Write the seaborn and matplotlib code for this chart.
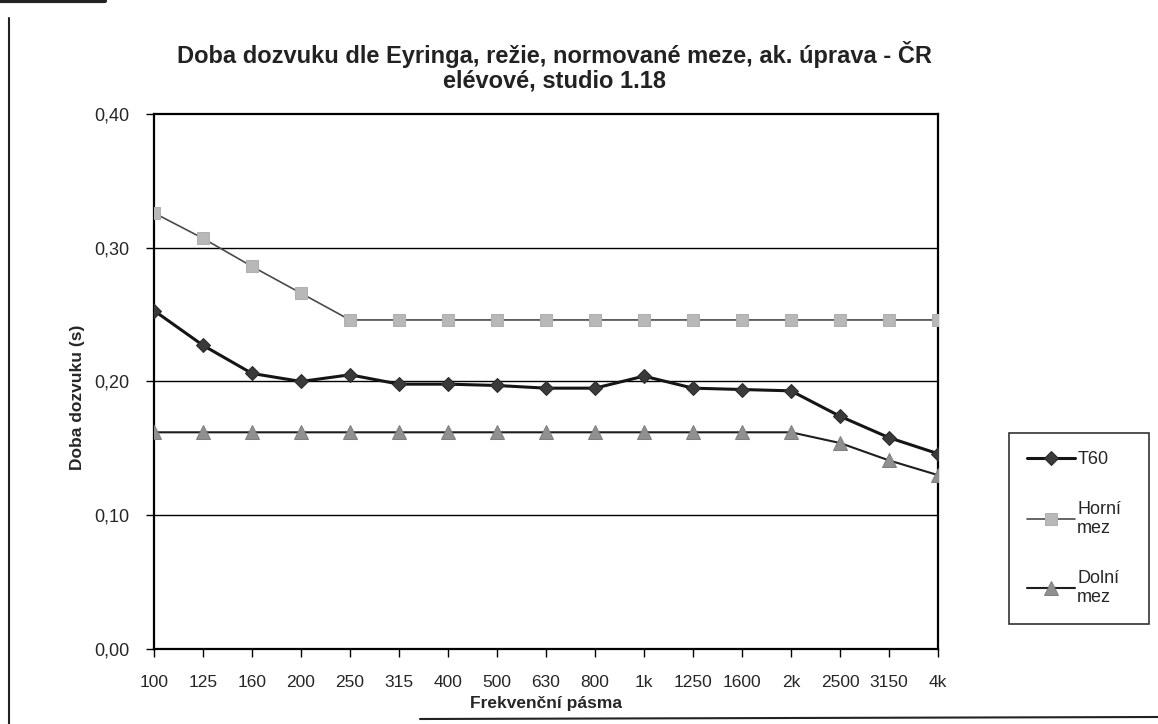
import matplotlib
matplotlib.use("Agg")
import matplotlib.pyplot as plt
import seaborn as sns
import pandas as pd
from matplotlib.lines import Line2D
from matplotlib.ticker import FuncFormatter

# frekvencni pasma a hodnoty
bands = ["100", "125", "160", "200", "250", "315", "400", "500", "630",
         "800", "1k", "1250", "1600", "2k", "2500", "3150", "4k"]
t60 = [0.253, 0.227, 0.206, 0.200, 0.205, 0.198, 0.198, 0.197, 0.195,
       0.195, 0.204, 0.195, 0.194, 0.193, 0.174, 0.158, 0.146]
horni = [0.326, 0.307, 0.286, 0.266, 0.246, 0.246, 0.246, 0.246, 0.246,
         0.246, 0.246, 0.246, 0.246, 0.246, 0.246, 0.246, 0.246]
dolni = [0.162, 0.162, 0.162, 0.162, 0.162, 0.162, 0.162, 0.162, 0.162,
         0.162, 0.162, 0.162, 0.162, 0.162, 0.154, 0.141, 0.130]
y_ticks = [0.0, 0.1, 0.2, 0.3, 0.4]

sns.set_theme(style="white")
plt.rcParams['font.family'] = ['Liberation Sans', 'DejaVu Sans']

df = pd.DataFrame({"pasmo": bands, "T60": t60, "Horni": horni, "Dolni": dolni})
df["pos"] = range(len(df))

fig = plt.figure(figsize=(11.58, 7.24), dpi=100)
ax = fig.add_axes([0.133, 0.1036, 0.677, 0.739])

# mrizka
for v in y_ticks[1:-1]:
    ax.axhline(v, color="black", lw=1, zorder=1)

sns.lineplot(data=df, x="pos", y="Horni", ax=ax, sort=False, color="#4a4a4a", lw=1.2,
             marker="s", markersize=9, markerfacecolor="#b8b8b8", markeredgecolor="#b0b0b0",
             label="Horní\nmez", zorder=3)
sns.lineplot(data=df, x="pos", y="Dolni", ax=ax, sort=False, color="#1e1e1e", lw=1.5,
             marker="^", markersize=10, markerfacecolor="#909090", markeredgecolor="#808080",
             label="Dolní\nmez", zorder=3)
sns.lineplot(data=df, x="pos", y="T60", ax=ax, sort=False, color="#151515", lw=2.2,
             marker="D", markersize=7, markerfacecolor="#3a3a3a", markeredgecolor="#2a2a2a",
             label="T60", zorder=4)

ax.set_xlim(0, len(bands) - 1)
ax.set_ylim(0, 0.4)
ax.set_xticks(df["pos"])
ax.set_xticklabels(bands)
ax.set_yticks(y_ticks)
ax.yaxis.set_major_formatter(FuncFormatter(lambda v, p: f"{v:.2f}".replace(".", ",")))

ax.tick_params(axis="x", direction="out", length=6, width=1, color="black",
               labelsize=12.5, pad=13, bottom=True)
ax.tick_params(axis="y", direction="out", length=6, width=1, color="black",
               labelsize=13, pad=12, left=True)
for s in ax.spines.values():
    s.set_color("black")
    s.set_linewidth(1.6)

ax.set_xlabel("Frekvenční pásma", fontsize=12.5, fontweight="bold")
ax.xaxis.set_label_coords(0.5, -0.088)
ax.set_ylabel("Doba dozvuku (s)", fontsize=12.5, fontweight="bold")
ax.yaxis.set_label_coords(-0.088, 0.47)

fig.text(0.479, 0.908, "Doba dozvuku dle Eyringa, režie, normované meze, ak. úprava - ČR\nelévové, studio 1.18",
         ha="center", va="center", fontsize=17, fontweight="bold", color="#222222", linespacing=1.05)

# legenda vpravo
handles, labels = ax.get_legend_handles_labels()
order = [2, 0, 1]
leg = ax.legend([handles[i] for i in order], [labels[i] for i in order],
                loc="upper left", bbox_to_anchor=(0.871, 0.146, 0.121, 0.256),
                bbox_transform=fig.transFigure, mode="expand", fontsize=13,
                frameon=True, fancybox=False, edgecolor="black", borderpad=1.0,
                labelspacing=1.8, handlelength=2.7, handletextpad=0.1, borderaxespad=0)
leg.get_frame().set_linewidth(1.2)

# okraje skenu
fig.add_artist(Line2D([9 / 1158, 9 / 1158], [0, 1 - 18 / 724], transform=fig.transFigure,
                      color="#222222", lw=1.5))
fig.add_artist(Line2D([0, 105 / 1158], [0.998, 0.998], transform=fig.transFigure,
                      color="#222222", lw=3))
fig.add_artist(Line2D([420 / 1158, 1], [1 - 719 / 724, 1 - 717 / 724], transform=fig.transFigure,
                      color="#222222", lw=1.5))

fig.savefig("out.png", dpi=100)
